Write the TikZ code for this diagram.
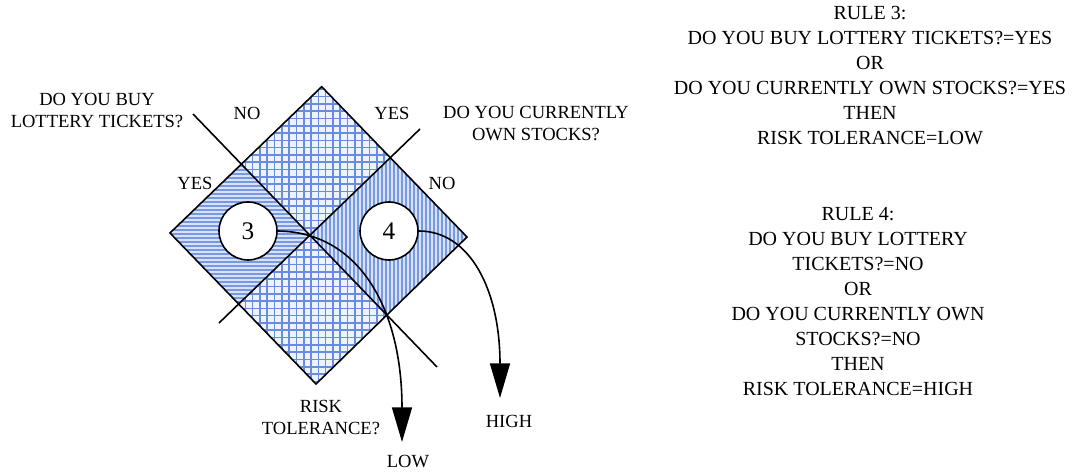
\documentclass[tikz,border=0pt]{standalone}
\usepackage{fontspec}
\setmainfont{Liberation Serif}
\usetikzlibrary{arrows.meta}
\definecolor{gridblue}{RGB}{105,140,225}
\definecolor{gridbg}{RGB}{236,242,254}
\definecolor{stripeblue}{RGB}{120,152,225}
\definecolor{stripebg}{RGB}{214,227,250}
\begin{document}
\begin{tikzpicture}[x=0.75pt,y=-0.75pt,
  outl/.style={draw=black,line width=1.2pt},
  gridln/.style={draw=gridblue,line width=1.2pt},
  stripeln/.style={draw=stripeblue,line width=1.5pt},
  lbl/.style={inner sep=0pt,align=center,font=\fontsize{13.9}{16.5}\selectfont},
  rulebox/.style={inner sep=0pt,align=center,font=\fontsize{15}{18.75}\selectfont},
  numc/.style={circle,draw=black,line width=1.2pt,fill=white,minimum size=43.5pt,inner sep=0pt,font=\fontsize{19}{22}\selectfont},
  arr/.style={line width=1.2pt,-{Triangle[length=26pt,width=15pt]}}]
\useasboundingbox (0,0) rectangle (1082,474);
\coordinate (T) at (321.7,86.7);
\coordinate (L) at (170,233);
\coordinate (B) at (316,384);
\coordinate (R) at (467,237);
\coordinate (C) at (310,235.2);
\coordinate (l1a) at (193,114);
\coordinate (l1b) at (437,367);
\coordinate (l2a) at (420,129);
\coordinate (l2b) at (219,323);
% fills
\begin{scope}
\clip (L) -- (T) -- (R) -- (B) -- cycle;
\fill[gridbg] (160,80) rectangle (480,390);
\foreach \i in {0,...,43} {
  \draw[gridln] (165+\i*7.3,80) -- ++(0,310);
  \draw[gridln] (160,82+\i*7.3) -- ++(320,0);
}
\begin{scope}
\clip (C) -- (76,-7) -- (-50,235) -- (128.6,410) -- cycle;
\fill[stripebg] (150,140) rectangle (330,330);
\foreach \i in {0,...,48} \draw[stripeln] (150,142+\i*4) -- (330,142+\i*4);
\end{scope}
\begin{scope}
\clip (C) -- (530,23) -- (650,235) -- (564,499) -- cycle;
\fill[stripebg] (300,140) rectangle (480,330);
\foreach \i in {0,...,46} \draw[stripeln] (302+\i*4,140) -- (302+\i*4,330);
\end{scope}
\end{scope}
\draw[outl] (L) -- (T) -- (R) -- (B) -- cycle;
\draw[outl] (l1a) -- (l1b);
\draw[outl] (l2a) -- (l2b);
% circles
\node[numc] (c3) at (248,231) {3};
\node[numc] (c4) at (389,231) {4};
% arrows
\coordinate (lowtip) at (402,442);
\coordinate (hightip) at (500,398);
\draw[arr] (c3.east) .. controls (360,232) and (402,310) .. (lowtip);
\draw[arr] (c4.east) .. controls (470,231) and (500,290) .. (hightip);
% labels
\node[lbl] (qlot) at (97,110) {DO YOU BUY\\LOTTERY TICKETS?};
\node[lbl] (qstk) at (536,124) {DO YOU CURRENTLY\\OWN STOCKS?};
\node[lbl] (noT) at (247,113) {NO};
\node[lbl] (yesT) at (392,113) {YES};
\node[lbl] (yesL) at (195,183) {YES};
\node[lbl] (noR) at (442,183) {NO};
\node[lbl] (risk) at (321,417) {RISK\\TOLERANCE?};
\node[lbl] (low) at (408,462) {LOW};
\node[lbl] (high) at (509,421) {HIGH};
\node[rulebox] (r3) at (870,76) {RULE 3:\\DO YOU BUY LOTTERY TICKETS?=YES\\OR\\DO YOU CURRENTLY OWN STOCKS?=YES\\THEN\\RISK TOLERANCE=LOW};
\node[rulebox] (r4) at (858,302) {RULE 4:\\DO YOU BUY LOTTERY\\TICKETS?=NO\\OR\\DO YOU CURRENTLY OWN\\STOCKS?=NO\\THEN\\RISK TOLERANCE=HIGH};
\end{tikzpicture}
\end{document}
